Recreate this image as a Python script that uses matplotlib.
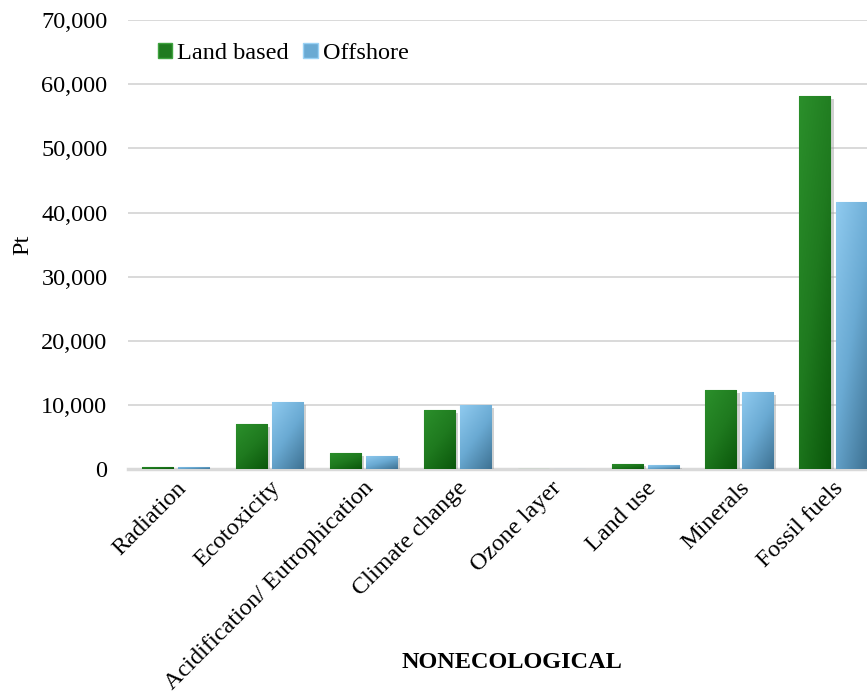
import numpy as np
import matplotlib
matplotlib.use('Agg')
import matplotlib.pyplot as plt
import matplotlib.patheffects as pe
from matplotlib.ticker import FuncFormatter
from matplotlib.colors import LinearSegmentedColormap
from matplotlib.patches import Patch

plt.rcParams['font.family'] = ['Liberation Serif', 'DejaVu Serif']

# impact categories and scores (Pt)
categories = ['Radiation', 'Ecotoxicity', 'Acidification/ Eutrophication', 'Climate change',
              'Ozone layer', 'Land use', 'Minerals', 'Fossil fuels']
land_based = [400, 7000, 2500, 9250, 30, 850, 12300, 58200]
offshore = [380, 10450, 2100, 9950, 25, 620, 12050, 41700]

# gradient colours, light (top-left) -> dark (bottom-right)
green_cmap = LinearSegmentedColormap.from_list('g', ['#2b8f2b', '#1f7a1f', '#0b580b'])
blue_cmap = LinearSegmentedColormap.from_list('b', ['#8fcaef', '#6aaad3', '#3f7394'])

fs = 17.5

fig = plt.figure(figsize=(8.67, 6.95), dpi=100)
ax = fig.add_axes([0.148, 0.325, 0.867, 0.646])

x = np.arange(len(categories))
w = 0.33
gap = 0.055
shadow = [pe.withSimplePatchShadow(offset=(2.5, -2), shadow_rgbFace='#9a9a9a', alpha=0.45)]
bars1 = ax.bar(x - (w + gap) / 2, land_based, w, color='#1f7a1f', edgecolor='#3fa33f',
               linewidth=0.8, zorder=3, path_effects=shadow)
bars2 = ax.bar(x + (w + gap) / 2, offshore, w, color='#6aaad3', edgecolor='#9ad2f5',
               linewidth=0.8, zorder=3, path_effects=shadow)

# diagonal gradient fill clipped to each bar
yy, xx = np.mgrid[0:1:60j, 0:1:20j]
grad = (xx * 0.6 + yy * 0.9) / 1.5
for bars, cmap in [(bars1, green_cmap), (bars2, blue_cmap)]:
    for b in bars:
        x0, y0 = b.get_x(), b.get_y()
        bw, bh = b.get_width(), b.get_height()
        if bh <= 0:
            continue
        im = ax.imshow(grad, cmap=cmap, vmin=0, vmax=1, origin='upper', aspect='auto',
                       extent=(x0, x0 + bw, y0, y0 + bh), zorder=3.5, interpolation='bilinear')
        im.set_clip_path(b)

ax.set_xlim(-0.5, len(categories) - 0.5)
ax.set_ylim(0, 70000)
ax.set_yticks(np.arange(0, 70001, 10000))
ax.yaxis.set_major_formatter(FuncFormatter(lambda v, p: f'{int(v):,}'))
ax.grid(axis='y', color='#d9d9d9', linewidth=1.4, zorder=0)
ax.set_axisbelow(True)
for s in ['top', 'right', 'left']:
    ax.spines[s].set_visible(False)
ax.spines['bottom'].set_color('#d9d9d9')
ax.spines['bottom'].set_linewidth(2.5)
ax.tick_params(axis='y', length=0, pad=15, labelsize=fs)
ax.tick_params(axis='x', length=0, pad=6, labelsize=fs)
ax.set_xticks(x)
ax.set_xticklabels(categories, rotation=45, ha='right', rotation_mode='anchor')
ax.set_ylabel('Pt', fontsize=fs, labelpad=6)

fig.text(512 / 867, 1 - 663 / 695, 'NONECOLOGICAL', fontsize=fs, fontweight='bold',
         ha='center', va='center')

handles = [Patch(facecolor='#1f7a1f', edgecolor='#3fa33f'),
           Patch(facecolor='#6aaad3', edgecolor='#9ad2f5')]
ax.legend(handles, ['Land based', 'Offshore'], loc='upper left', bbox_to_anchor=(0.01, 0.998),
          ncol=2, frameon=False, fontsize=fs, handlelength=0.6, handleheight=0.6,
          handletextpad=0.2, columnspacing=0.6)

fig.savefig('out.png', dpi=100)
